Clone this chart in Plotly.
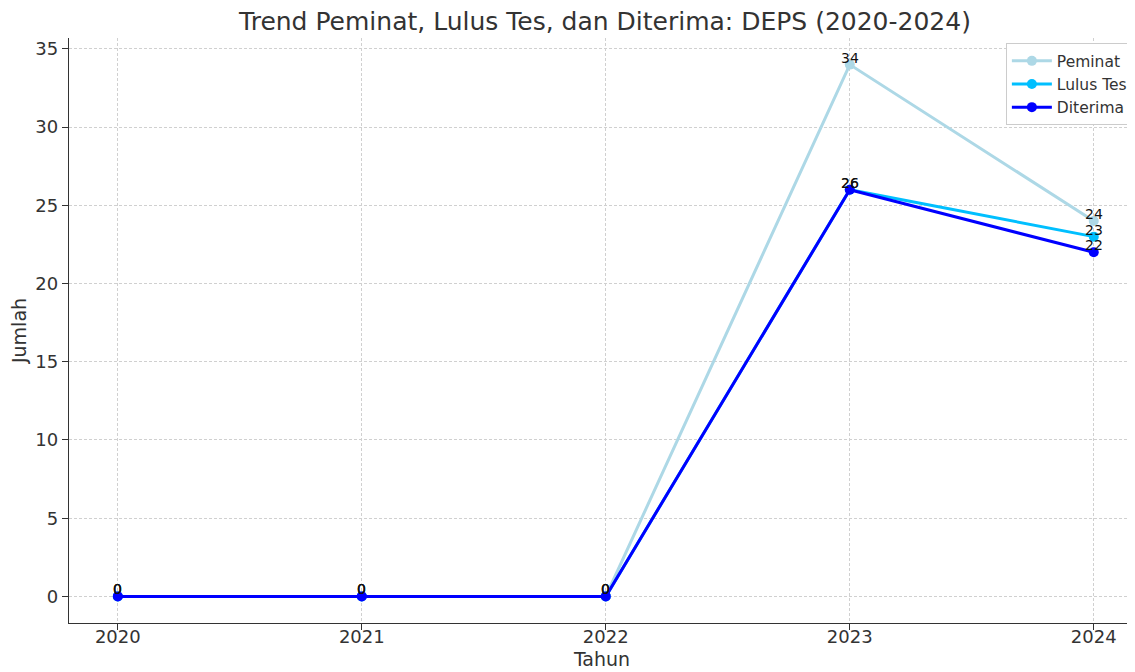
import plotly.graph_objects as go

tahun = [2020, 2021, 2022, 2023, 2024]
peminat = [0, 0, 0, 34, 24]
lulus_tes = [0, 0, 0, 26, 23]
diterima = [0, 0, 0, 26, 22]

series = [
    ("Peminat", peminat, "#ADD8E6"),
    ("Lulus Tes", lulus_tes, "#00BFFF"),
    ("Diterima", diterima, "#0000FF"),
]

fig = go.Figure()
for name, vals, color in series:
    fig.add_trace(go.Scatter(
        x=tahun, y=vals, name=name, mode="lines+markers",
        line=dict(color=color, width=3),
        marker=dict(color=color, size=10),
    ))
    # value labels just above each point, like ax.text(..., va="bottom")
    for t, v in zip(tahun, vals):
        fig.add_annotation(x=t, y=v, text=str(v), showarrow=False,
                           xanchor="center", yanchor="bottom", yshift=-3,
                           font=dict(size=14, color="#111111"))

font = "DejaVu Sans, sans-serif"
# the page body adds an 8px margin, so the figure is 8px smaller than the window
fig.update_layout(
    width=1127, height=664,
    margin=dict(l=61, r=0, t=30, b=49),
    paper_bgcolor="white", plot_bgcolor="white",
    font=dict(family=font, color="#333333"),
    title=dict(text="Trend Peminat, Lulus Tes, dan Diterima: DEPS (2020-2024)",
               x=597 / 1127, xanchor="center", y=1 - 13 / 664, yanchor="middle",
               font=dict(size=25, color="#333333")),
    legend=dict(x=0.998, xanchor="right", y=0.991, yanchor="top",
                bordercolor="#cccccc", borderwidth=1, bgcolor="white",
                font=dict(size=15.5, color="#333333"), itemwidth=40),
    showlegend=True,
)
fig.update_xaxes(
    range=[2019.8, 2024.169], tickvals=tahun, ticktext=[str(t) for t in tahun],
    showgrid=True, gridcolor="#d0d0d0", griddash="3px,2px", gridwidth=1,
    showline=True, linecolor="#333333", linewidth=1.3,
    ticks="outside", ticklen=6, tickcolor="#333333",
    tickfont=dict(size=18, color="#333333"), zeroline=False,
    ticklabelstandoff=-9, automargin=False,
    title=dict(text="Tahun", font=dict(size=19, color="#333333"), standoff=6),
)
fig.update_yaxes(
    range=[-1.7, 35.7], tickvals=[0, 5, 10, 15, 20, 25, 30, 35],
    showgrid=True, gridcolor="#d0d0d0", griddash="3px,2px", gridwidth=1,
    showline=True, linecolor="#333333", linewidth=1.3,
    ticks="outside", ticklen=6, tickcolor="#333333",
    tickfont=dict(size=18, color="#333333"), zeroline=False,
    automargin=False,
    title=dict(text="Jumlah", font=dict(size=19, color="#333333"), standoff=6),
)

fig.write_html("out.html")
